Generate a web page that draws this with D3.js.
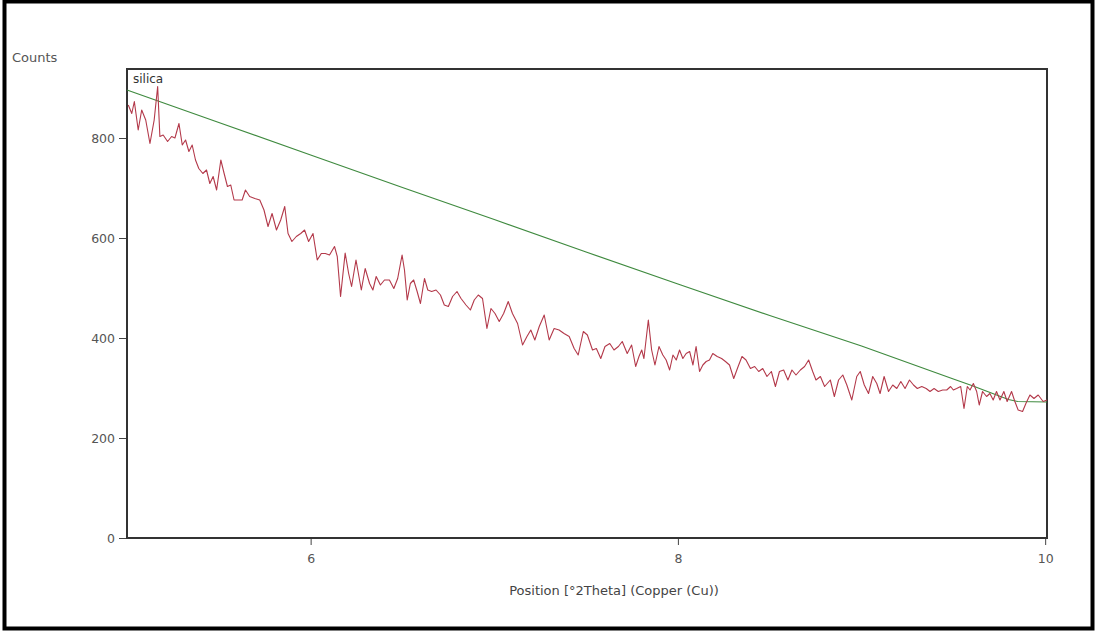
<!DOCTYPE html>
<html>
<head>
<meta charset="utf-8">
<script src="https://cdn.jsdelivr.net/npm/d3@7"></script>
<style>
  body { margin: 0; background: #fff; }
  svg text { font-family: "DejaVu Sans", sans-serif; }
</style>
</head>
<body>
<svg class="chart-xrd" width="1096" height="632"></svg>
<script>
// measured scan: position (°2Theta) and counts
var scanPos = [
  5.007, 5.026, 5.040, 5.061, 5.080, 5.102, 5.125, 5.148, 5.167, 5.179,
  5.197, 5.221, 5.243, 5.261, 5.283, 5.301, 5.319, 5.337, 5.355, 5.373,
  5.391, 5.413, 5.433, 5.451, 5.469, 5.488, 5.511, 5.529, 5.547, 5.565,
  5.583, 5.605, 5.627, 5.645, 5.668, 5.696, 5.723, 5.746, 5.768, 5.790,
  5.814, 5.837, 5.859, 5.877, 5.898, 5.922, 5.946, 5.967, 5.989, 6.013,
  6.036, 6.058, 6.080, 6.103, 6.130, 6.145, 6.163, 6.188, 6.207, 6.223,
  6.247, 6.276, 6.297, 6.321, 6.339, 6.357, 6.380, 6.402, 6.429, 6.453,
  6.474, 6.498, 6.511, 6.526, 6.543, 6.561, 6.580, 6.598, 6.620, 6.638,
  6.659, 6.683, 6.707, 6.728, 6.750, 6.773, 6.797, 6.819, 6.846, 6.870,
  6.891, 6.913, 6.936, 6.960, 6.982, 7.004, 7.027, 7.051, 7.076, 7.099,
  7.127, 7.154, 7.178, 7.199, 7.221, 7.245, 7.272, 7.299, 7.326, 7.353,
  7.380, 7.408, 7.435, 7.457, 7.485, 7.507, 7.535, 7.556, 7.580, 7.603,
  7.629, 7.652, 7.676, 7.697, 7.724, 7.748, 7.770, 7.788, 7.803, 7.815,
  7.839, 7.857, 7.875, 7.897, 7.918, 7.936, 7.955, 7.973, 7.991, 8.009,
  8.027, 8.045, 8.064, 8.082, 8.099, 8.118, 8.136, 8.154, 8.172, 8.190,
  8.214, 8.238, 8.259, 8.281, 8.304, 8.328, 8.349, 8.371, 8.395, 8.418,
  8.440, 8.462, 8.485, 8.509, 8.531, 8.553, 8.576, 8.599, 8.621, 8.643,
  8.667, 8.690, 8.712, 8.734, 8.752, 8.776, 8.799, 8.830, 8.852, 8.875,
  8.898, 8.920, 8.947, 8.974, 8.993, 9.015, 9.038, 9.061, 9.083, 9.101,
  9.123, 9.147, 9.170, 9.192, 9.214, 9.237, 9.261, 9.283, 9.304, 9.328,
  9.352, 9.373, 9.395, 9.418, 9.442, 9.464, 9.485, 9.500, 9.518, 9.540,
  9.558, 9.576, 9.591, 9.609, 9.627, 9.641, 9.659, 9.681, 9.699, 9.717,
  9.735, 9.754, 9.775, 9.793, 9.817, 9.835, 9.853, 9.877, 9.895, 9.917,
  9.939, 9.962, 9.989, 10.010
];

var scanCounts = [
  866, 849, 873, 816, 856, 836, 789, 836, 903, 803,
  806, 793, 803, 800, 829, 786, 796, 773, 786, 756,
  739, 729, 736, 709, 723, 696, 756, 729, 703, 706,
  676, 676, 676, 696, 683, 679, 676, 656, 623, 649,
  616, 636, 663, 609, 593, 603, 609, 616, 593, 609,
  556, 569, 569, 566, 583, 563, 483, 570, 529, 503,
  556, 496, 539, 509, 496, 523, 506, 516, 516, 499,
  519, 566, 536, 476, 509, 516, 493, 469, 519, 496,
  493, 496, 486, 466, 463, 483, 493, 479, 466, 456,
  476, 486, 479, 419, 459, 449, 433, 449, 473, 449,
  429, 386, 403, 416, 396, 423, 446, 396, 419, 416,
  409, 403, 379, 366, 413, 406, 376, 379, 359, 383,
  389, 376, 383, 393, 369, 386, 343, 363, 376, 359,
  436, 376, 346, 383, 366, 356, 336, 366, 356, 376,
  359, 369, 373, 346, 383, 333, 346, 353, 356, 369,
  363, 359, 353, 346, 319, 343, 363, 356, 339, 343,
  333, 339, 323, 333, 303, 333, 336, 316, 336, 326,
  336, 343, 356, 333, 316, 323, 303, 316, 283, 316,
  326, 306, 276, 323, 333, 306, 289, 323, 309, 289,
  323, 293, 306, 299, 313, 299, 316, 306, 299, 303,
  299, 293, 299, 293, 296, 296, 303, 296, 299, 303,
  259, 303, 296, 309, 293, 266, 293, 283, 289, 276,
  293, 276, 293, 273, 293, 273, 256, 253, 269, 286,
  279, 286, 273, 276
];

// fitted background
var bgPos = [5.0, 5.5, 6.0, 6.5, 7.0, 7.5, 8.0, 8.5, 9.0, 9.5, 9.6, 9.7, 9.75, 9.8, 9.85, 10.01];
var bgCounts = [896, 831, 766, 701, 637, 572, 508, 445, 384, 318, 305, 291, 284, 277, 273, 272];

var yTicks = [0, 200, 400, 600, 800];
var xTicks = [6, 8, 10];

var plot = { left: 127, right: 1047, top: 69, bottom: 538 };

var scale = {
    x: d3.scaleLinear().domain([5, 10.01]).range([plot.left, plot.right]),
    y: d3.scaleLinear().domain([0, 938]).range([plot.bottom, plot.top])
};

function zipPoints(xs, ys) {
    return xs.map(function (d, i) { return [d, ys[i]]; });
}

function drawFrame(svg) {
    // outer black border of the screenshot
    svg.append('rect')
       .attr('x', 4.5).attr('y', 1.5)
       .attr('width', 1088).attr('height', 627)
       .attr('fill', 'none')
       .attr('stroke', '#000')
       .attr('stroke-width', 4);

    svg.append('text')
       .attr('x', 12).attr('y', 62)
       .attr('font-size', 13)
       .attr('fill', '#555')
       .text('Counts');

    svg.append('text')
       .attr('x', 614)
       .attr('y', 595)
       .attr('text-anchor', 'middle')
       .attr('font-size', 13)
       .attr('fill', '#444')
       .text('Position [°2Theta] (Copper (Cu))');
}

function drawAxes(svg) {
    var ay = svg.append('g')
        .attr('transform', 'translate(' + plot.left + ',0)')
        .call(d3.axisLeft(scale.y).tickValues(yTicks).tickSize(8).tickPadding(4));
    var ax = svg.append('g')
        .attr('transform', 'translate(0,' + plot.bottom + ')')
        .call(d3.axisBottom(scale.x).tickValues(xTicks).tickSize(7).tickPadding(9)
                .tickFormat(d3.format('d')));

    [ax, ay].forEach(function (g) {
        g.select('.domain').remove();
        g.selectAll('line').attr('stroke', '#444');
        g.selectAll('text')
         .attr('font-family', '"DejaVu Sans", sans-serif')
         .attr('font-size', 12.5)
         .attr('fill', '#555');
    });

    svg.append('rect')
       .attr('x', plot.left).attr('y', plot.top)
       .attr('width', plot.right - plot.left)
       .attr('height', plot.bottom - plot.top)
       .attr('fill', 'none')
       .attr('stroke', '#333')
       .attr('stroke-width', 2);
}

function drawLines(svg) {
    var line = d3.line()
        .x(function (d) { return scale.x(d[0]); })
        .y(function (d) { return scale.y(d[1]); });

    svg.append('path')
       .datum(zipPoints(bgPos, bgCounts))
       .attr('d', line)
       .attr('fill', 'none')
       .attr('stroke', '#3f8a3f')
       .attr('stroke-width', 1.2);

    svg.append('path')
       .datum(zipPoints(scanPos, scanCounts))
       .attr('d', line)
       .attr('fill', 'none')
       .attr('stroke', '#b3394a')
       .attr('stroke-width', 1.1)
       .attr('stroke-linejoin', 'round');

    svg.append('text')
       .attr('x', plot.left + 6).attr('y', plot.top + 14)
       .attr('font-size', 12)
       .attr('fill', '#333')
       .text('silica');
}

var svg = d3.select('svg.chart-xrd');
drawFrame(svg);
drawAxes(svg);
drawLines(svg);
</script>
</body>
</html>
